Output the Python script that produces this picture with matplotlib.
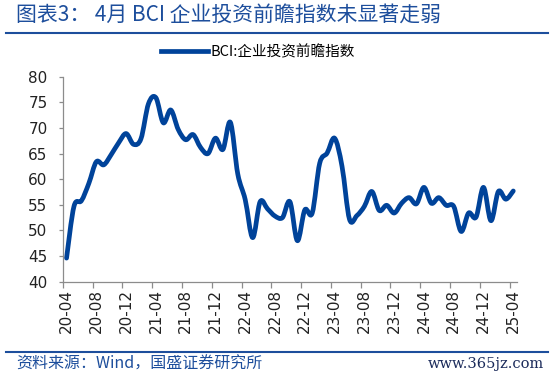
import numpy as np
import matplotlib
matplotlib.use("Agg")
import matplotlib.pyplot as plt
from matplotlib.path import Path
from matplotlib.patches import PathPatch
from matplotlib.lines import Line2D

# BCI 企业投资前瞻指数, monthly 2020-04 .. 2025-04
bci = [44.6, 54.7, 55.8, 59.2, 63.4, 62.8, 64.8, 67.1, 68.9, 66.8,
       67.9, 74.7, 75.9, 71.0, 73.5, 69.7, 67.7, 68.7, 66.2, 65.0,
       68.0, 65.8, 71.1, 61.0, 56.0, 48.6, 55.6, 54.2, 52.8, 52.5,
       55.6, 48.0, 54.0, 53.4, 63.1, 65.1, 68.0, 62.5, 52.2, 52.9,
       54.7, 57.6, 53.9, 54.9, 53.4, 55.3, 56.4, 55.2, 58.4, 55.3,
       56.4, 54.9, 54.7, 49.8, 53.4, 52.6, 58.4, 51.9, 57.6, 56.1, 57.7]
tick_labels = ["20-04", "20-08", "20-12", "21-04", "21-08", "21-12", "22-04", "22-08",
               "22-12", "23-04", "23-08", "23-12", "24-04", "24-08", "24-12", "25-04"]
yticks = [40, 45, 50, 55, 60, 65, 70, 75, 80]

BLUE = "#00439A"
TITLE_BLUE = "#1D4E9C"
cjk = ["Noto Sans CJK SC", "DejaVu Sans"]

fig = plt.figure(figsize=(5.5, 3.74), dpi=100)
ax = fig.add_axes([0.1142, 0.2468, 0.8258, 0.5482])

x = np.arange(len(bci))
y = np.array(bci)

# smoothed line like excel (bezier between points)
verts = [(x[0], y[0])]
codes = [Path.MOVETO]
n = len(x)
for i in range(n - 1):
    p0 = np.array([x[max(i - 1, 0)], y[max(i - 1, 0)]])
    p1 = np.array([x[i], y[i]])
    p2 = np.array([x[i + 1], y[i + 1]])
    p3 = np.array([x[min(i + 2, n - 1)], y[min(i + 2, n - 1)]])
    c1 = p1 + (p2 - p0) / 6
    c2 = p2 - (p3 - p1) / 6
    verts += [tuple(c1), tuple(c2), tuple(p2)]
    codes += [Path.CURVE4] * 3
ax.add_patch(PathPatch(Path(verts, codes), fill=False, edgecolor=BLUE,
                       lw=3.4, capstyle="round", joinstyle="round"))

ax.set_xlim(-0.5, len(bci) - 0.5)
ax.set_ylim(40, 80)
ax.set_yticks(yticks)
ax.set_xticks(np.arange(0, len(bci), 4) - 0.5)
ax.set_xticklabels([])
ax.set_xticks(np.arange(0, len(bci), 4), tick_labels, minor=True)

for s in ["top", "right"]:
    ax.spines[s].set_visible(False)
for s in ["left", "bottom"]:
    ax.spines[s].set_color("#8C8C8C")
    ax.spines[s].set_linewidth(0.9)
ax.tick_params(axis="y", direction="out", length=3, width=0.9, color="#8C8C8C",
               pad=8, labelsize=11, labelcolor="#222222")
ax.tick_params(axis="x", which="major", direction="out", length=4, width=0.9, color="#8C8C8C")
ax.tick_params(axis="x", which="minor", length=0, pad=5, labelsize=11,
               labelrotation=90, labelcolor="#222222")

# legend
leg = ax.legend([Line2D([0], [0], color=BLUE, lw=3.4)], ["BCI:企业投资前瞻指数"],
                loc="center", bbox_to_anchor=(0.43, 1.12), frameon=False,
                handlelength=3.2, handletextpad=0.2, prop={"family": cjk, "size": 10.5})

# title, footer and separators
fig.text(0.03, 0.962, "图表3： 4月 BCI 企业投资前瞻指数未显著走弱", family=cjk,
         fontsize=15, color=TITLE_BLUE, style="italic", va="center")
fig.add_artist(Line2D([0.01, 0.997], [0.911, 0.911], color=TITLE_BLUE, lw=1.5))
fig.add_artist(Line2D([0.01, 0.997], [0.06, 0.06], color=TITLE_BLUE, lw=1.5))
fig.text(0.03, 0.026, "资料来源：Wind，国盛证券研究所", family=cjk,
         fontsize=11.5, color=TITLE_BLUE, style="italic", va="center")
fig.text(0.99, 0.026, "www.365jz.com", family="DejaVu Serif", fontsize=10.5,
         color="#1A2A5A", ha="right", va="center")

fig.savefig("out.png", dpi=100)
